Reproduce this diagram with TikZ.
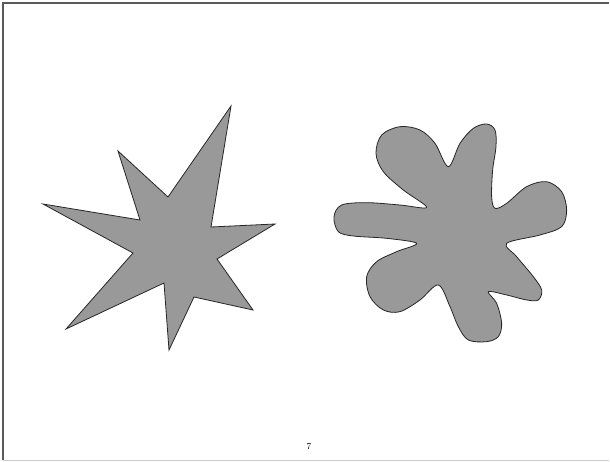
\documentclass[tikz,border=0pt]{standalone}
\usepackage{tikz}
\definecolor{shapegray}{gray}{0.6}
\definecolor{framedark}{gray}{0.35}
\definecolor{framelight}{gray}{0.8}

\begin{document}
\begin{tikzpicture}[x=1pt,y=-1pt,
  figshape/.style={fill=shapegray,draw=black!85,line width=0.8pt,line join=miter}]
 \useasboundingbox (0,0) rectangle (610,461);
 \fill[white] (0,0) rectangle (610,461);

 % frame of the page
 \draw[framedark,line width=1.2pt] (3,460) -- (3,3) -- (609,3);
 \draw[framelight,line width=1pt] (3,460) -- (609,460);

 % star
 \draw[figshape] (231,106) -- (211,227) -- (275,224) -- (217,259) -- (253,310)
  -- (194,297) -- (169,350) -- (164,283) -- (66,329) -- (133,253) -- (43,204)
  -- (140,220) -- (118,151) -- (168,197) -- cycle;

 % blob
 \begin{scope}[shift={(320,110)},x=0.3333pt,y=-0.3333pt]
 \draw[figshape,line join=round] plot[smooth cycle,tension=0.55] coordinates {
  (385,170) (420,100) (460,55) (500,42) (525,60) (528,110) (518,180) (515,260)
  (525,295) (560,280) (620,230) (680,215) (725,245) (740,300) (725,350) (660,375)
  (560,400) (590,440) (640,500) (665,540) (655,570) (620,570) (560,555)
  (505,545) (530,580) (545,640) (535,680) (500,695) (445,690) (415,650) (390,590)
  (355,525) (300,570) (240,605) (190,600) (150,560) (140,500) (170,455) (230,425)
  (290,400) (200,385) (100,378) (55,365) (42,320) (65,285) (140,278) (240,285)
  (320,292) (250,240) (190,185) (168,130) (185,75) (240,50) (300,60) (345,100)};
 \end{scope}

 \node (pagenum) at (309,447) {\small 7};
\end{tikzpicture}
\end{document}
